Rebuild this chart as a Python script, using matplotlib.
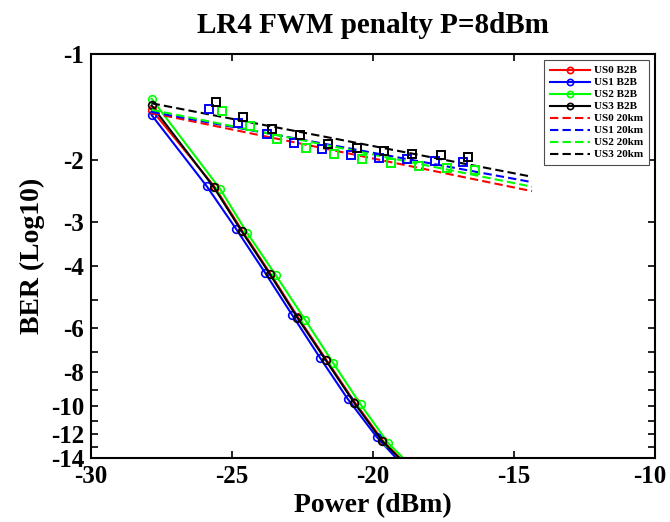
import numpy as np
import matplotlib
matplotlib.use("Agg")
import matplotlib.pyplot as plt
import matplotlib.transforms as mtransforms
from matplotlib.lines import Line2D

plt.rcParams["font.family"] = ["Liberation Serif", "DejaVu Serif"]
plt.rcParams["font.weight"] = "bold"
plt.rcParams["axes.unicode_minus"] = False

channels = ["US0", "US1", "US2", "US3"]
colors = ["red", "blue", "lime", "black"]

# B2B measurements: received power (dBm) and log10(BER)
b2b_power = {
    "US0": [-27.85, -25.62, -24.64, -23.63, -22.66, -21.65, -20.65, -19.65],
    "US1": [-27.85, -25.90, -24.86, -23.83, -22.86, -21.88, -20.90, -19.87],
    "US2": [-27.85, -25.43, -24.46, -23.44, -22.41, -21.41, -20.44, -19.46],
    "US3": [-27.85, -25.64, -24.66, -23.65, -22.68, -21.67, -20.67, -19.67],
}
b2b_logber = {
    "US0": [-1.44, -2.38, -3.17, -4.21, -5.58, -7.38, -9.72, -12.50],
    "US1": [-1.49, -2.37, -3.13, -4.17, -5.51, -7.27, -9.51, -12.20],
    "US2": [-1.34, -2.41, -3.22, -4.25, -5.67, -7.53, -9.87, -12.70],
    "US3": [-1.40, -2.39, -3.18, -4.22, -5.60, -7.40, -9.75, -12.55],
}
# where each B2B curve leaves the bottom of the plot
b2b_exit_power = {"US0": -19.05, "US1": -19.18, "US2": -18.93, "US3": -19.07}

# 20 km measurements (no red points visible)
km20_power = {
    "US1": [-25.80, -24.78, -23.77, -22.79, -21.80, -20.78, -19.78, -18.78, -17.80, -16.80],
    "US2": [-25.37, -24.36, -23.39, -22.38, -21.38, -20.38, -19.37, -18.37, -17.39, -16.38],
    "US3": [-25.58, -24.60, -23.59, -22.59, -21.59, -20.58, -19.60, -18.61, -17.60, -16.62],
}
km20_logber = {
    "US1": [-1.43, -1.57, -1.69, -1.79, -1.86, -1.93, -1.97, -1.99, -2.01, -2.03],
    "US2": [-1.45, -1.60, -1.74, -1.85, -1.92, -1.99, -2.04, -2.08, -2.10, -2.13],
    "US3": [-1.37, -1.51, -1.63, -1.70, -1.80, -1.85, -1.89, -1.92, -1.94, -1.96],
}
# 20 km fitted lines (end points)
fit_power = [-27.85, -14.36]
fit_logber = {
    "US0": [-1.47, -2.45],
    "US1": [-1.46, -2.31],
    "US2": [-1.44, -2.38],
    "US3": [-1.38, -2.23],
}

ytick_vals = [-1, -2, -3, -4, -5, -6, -7, -8, -9, -10, -11, -12, -13, -14]
ytick_show = [-1, -2, -3, -4, -6, -8, -10, -12, -14]


def tr(logber):
    # BER axis scaled as log10(-log10(BER)), upside down
    return -np.log10(-np.asarray(logber, dtype=float))


fig = plt.figure(figsize=(6.7, 5.22), dpi=100)
ax = fig.add_axes([0.1358, 0.1226, 0.8418, 0.774])

lw = 1.5
for ch, c in zip(channels, colors):
    p = b2b_power[ch] + [b2b_exit_power[ch]]
    l = b2b_logber[ch] + [-14.0]
    ax.plot(p, tr(l), "-", color=c, lw=lw, marker="o", ms=5.5, mew=1.2,
            mfc="none", markevery=list(range(len(b2b_power[ch]))))

for ch, c in zip(channels, colors):
    ax.plot(fit_power, tr(fit_logber[ch]), color=c, lw=lw, ls=(0, (4, 2)))

for ch, c in zip(channels, colors):
    if ch in km20_power:
        ax.plot(km20_power[ch], tr(km20_logber[ch]), "s", color=c, ms=6,
                mew=1.4, mfc="none", ls="none")

ax.set_xlim(-30, -10)
ax.set_ylim(tr(-14), tr(-1))
ax.set_xticks([-30, -25, -20, -15, -10])
ax.set_yticks(tr(ytick_vals))
ax.set_yticklabels([str(v) if v in ytick_show else "" for v in ytick_vals])
ax.tick_params(direction="in", length=5, width=1.2, top=True, right=True,
               labelsize=18, pad=5)
for s in ax.spines.values():
    s.set_linewidth(1.5)

# keep the last x label inside the figure
fig.canvas.draw()
last = ax.get_xticklabels()[-1]
last.set_transform(last.get_transform() +
                   mtransforms.ScaledTranslation(-4 / 72, 0, fig.dpi_scale_trans))

ax.set_title("LR4 FWM penalty P=8dBm", fontsize=21, fontweight="bold", pad=15)
ax.set_xlabel("Power (dBm)", fontsize=20, fontweight="bold", labelpad=4)
ax.set_ylabel("BER (Log10)", fontsize=20, fontweight="bold", labelpad=4)

handles = []
labels = []
for ch, c in zip(channels, colors):
    handles.append(Line2D([], [], color=c, lw=lw, marker="o", ms=4.5,
                          mew=1.2, mfc="none"))
    labels.append(ch + " B2B")
for ch, c in zip(channels, colors):
    handles.append(Line2D([], [], color=c, lw=lw, ls=(0, (4, 2))))
    labels.append(ch + " 20km")
leg = ax.legend(handles, labels, loc="upper right", fontsize=8,
                handlelength=3.6, handletextpad=0.4, labelspacing=0.2,
                borderaxespad=0.55, borderpad=0.5, fancybox=False,
                framealpha=1)
leg.get_frame().set_edgecolor("0.3")
leg.get_frame().set_linewidth(0.8)

plt.savefig("out.png", dpi=100)
